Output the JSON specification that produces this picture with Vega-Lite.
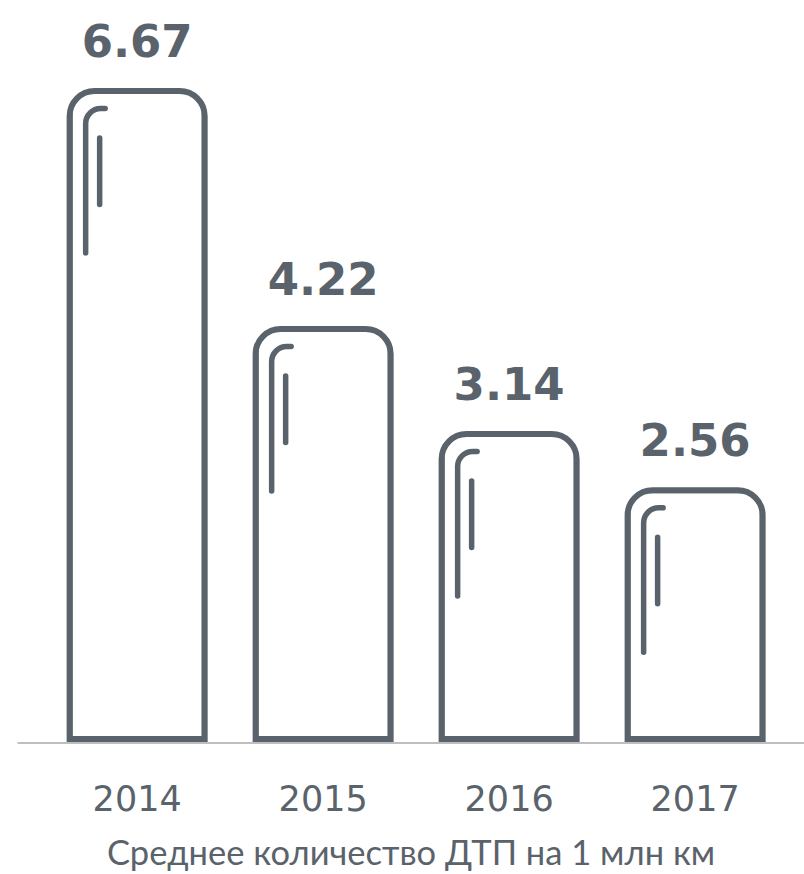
{
  "$schema": "https://vega.github.io/schema/vega-lite/v6.json",
  "width": 787,
  "height": 680,
  "autosize": {"type": "none"},
  "padding": {"left": 17, "top": 59, "right": 0, "bottom": 135},
  "background": "white",
  "config": {"view": {"stroke": null}},
  "data": {"values": [
    {"year": "2014", "value": 6.67},
    {"year": "2015", "value": 4.22},
    {"year": "2016", "value": 3.14},
    {"year": "2017", "value": 2.56}
  ]},
  "encoding": {
    "x": {
      "field": "year", "type": "ordinal",
      "scale": {"paddingInner": 0.274, "paddingOuter": 0.2527, "align": 0.56},
      "axis": {
        "title": "Среднее количество ДТП на 1 млн км",
        "offset": 3.5,
        "domainColor": "#aaaaaa", "domainWidth": 1.5,
        "ticks": false, "labelAngle": 0,
        "labelFont": "DejaVu Sans", "labelFontSize": 35, "labelColor": "#5a636b", "labelPadding": 40,
        "titleFont": "Lato", "titleFontSize": 34.5, "titleFontWeight": "normal", "titleColor": "#5a636b", "titlePadding": 20
      }
    }
  },
  "layer": [
    {
      "mark": {"type": "bar", "fill": "white", "stroke": "#5a636b", "strokeWidth": 6, "cornerRadiusTopLeft": 25, "cornerRadiusTopRight": 25},
      "encoding": {"y": {"field": "value", "type": "quantitative", "scale": {"domain": [0, 7]}, "axis": null}}
    },
    {
      "mark": {"type": "bar", "width": 40, "xOffset": -31.5, "yOffset": 17.5, "y2Offset": 162, "fill": null, "fillOpacity": 0, "stroke": "#5a636b", "strokeWidth": 5.5, "strokeCap": "round", "strokeDash": [4.5, 205, 400], "cornerRadiusTopLeft": 15},
      "encoding": {"y": {"field": "value", "type": "quantitative"}, "y2": {"field": "value"}}
    },
    {
      "mark": {"type": "rule", "xOffset": -37.5, "yOffset": 47, "y2Offset": 113.5, "stroke": "#5a636b", "strokeWidth": 5.5, "strokeCap": "round"},
      "encoding": {"y": {"field": "value", "type": "quantitative"}, "y2": {"field": "value"}}
    },
    {
      "mark": {"type": "text", "dy": -34, "baseline": "alphabetic", "font": "DejaVu Sans", "fontWeight": "bold", "fontSize": 45, "fill": "#5a636b"},
      "encoding": {"y": {"field": "value", "type": "quantitative"}, "text": {"field": "value", "type": "quantitative", "format": ".2f"}}
    }
  ]
}
